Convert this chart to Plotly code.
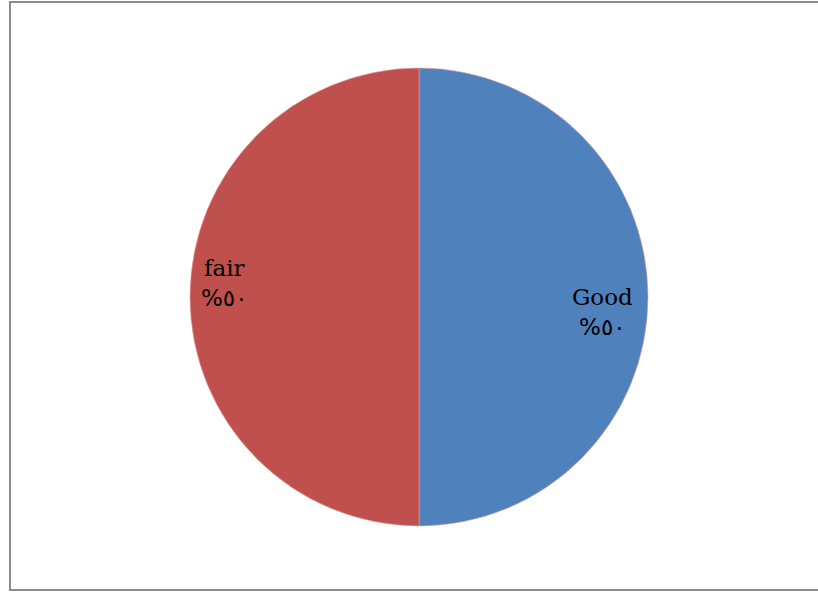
import plotly.graph_objects as go

# Rating shares
labels = ["Good", "fair"]
values = [50, 50]
value_text = ["%٥٠", "%٥٠"]
colors = ["#4F81BD", "#C0504D"]

W, H = 818, 592
cx, cy, r = 419, 297, 229

fig = go.Figure(
    go.Pie(
        labels=labels,
        values=values,
        sort=False,
        direction="clockwise",
        rotation=0,
        marker=dict(colors=colors, line=dict(color="#E8A0A0", width=0.6)),
        textinfo="none",
        hoverinfo="label+percent",
        showlegend=False,
        domain=dict(x=[(cx - r) / W, (cx + r) / W], y=[(H - cy - r) / H, (H - cy + r) / H]),
    )
)

# Slice labels sit near the rim of each half
label_pos = {"Good": (602, 312), "fair": (224, 283)}
annotations = []
for lab, txt in zip(labels, value_text):
    px, py = label_pos[lab]
    annotations.append(dict(
        x=px / W, y=(H - py) / H, xref="paper", yref="paper",
        text=f"{lab}<br><span style='font-family:DejaVu Sans'>{txt}</span>",
        showarrow=False,
        font=dict(family="DejaVu Serif", size=23, color="black"),
        align="center", xanchor="center", yanchor="middle",
    ))

fig.update_layout(
    width=W,
    height=H,
    margin=dict(l=0, r=0, t=0, b=0),
    paper_bgcolor="white",
    plot_bgcolor="white",
    annotations=annotations,
    shapes=[
        dict(
            type="rect", xref="paper", yref="paper",
            x0=10 / W, x1=1.02, y0=2 / H, y1=(H - 2) / H,
            line=dict(color="#8C8C8C", width=2), fillcolor="rgba(0,0,0,0)",
        )
    ],
)

fig.write_html("out.html")
